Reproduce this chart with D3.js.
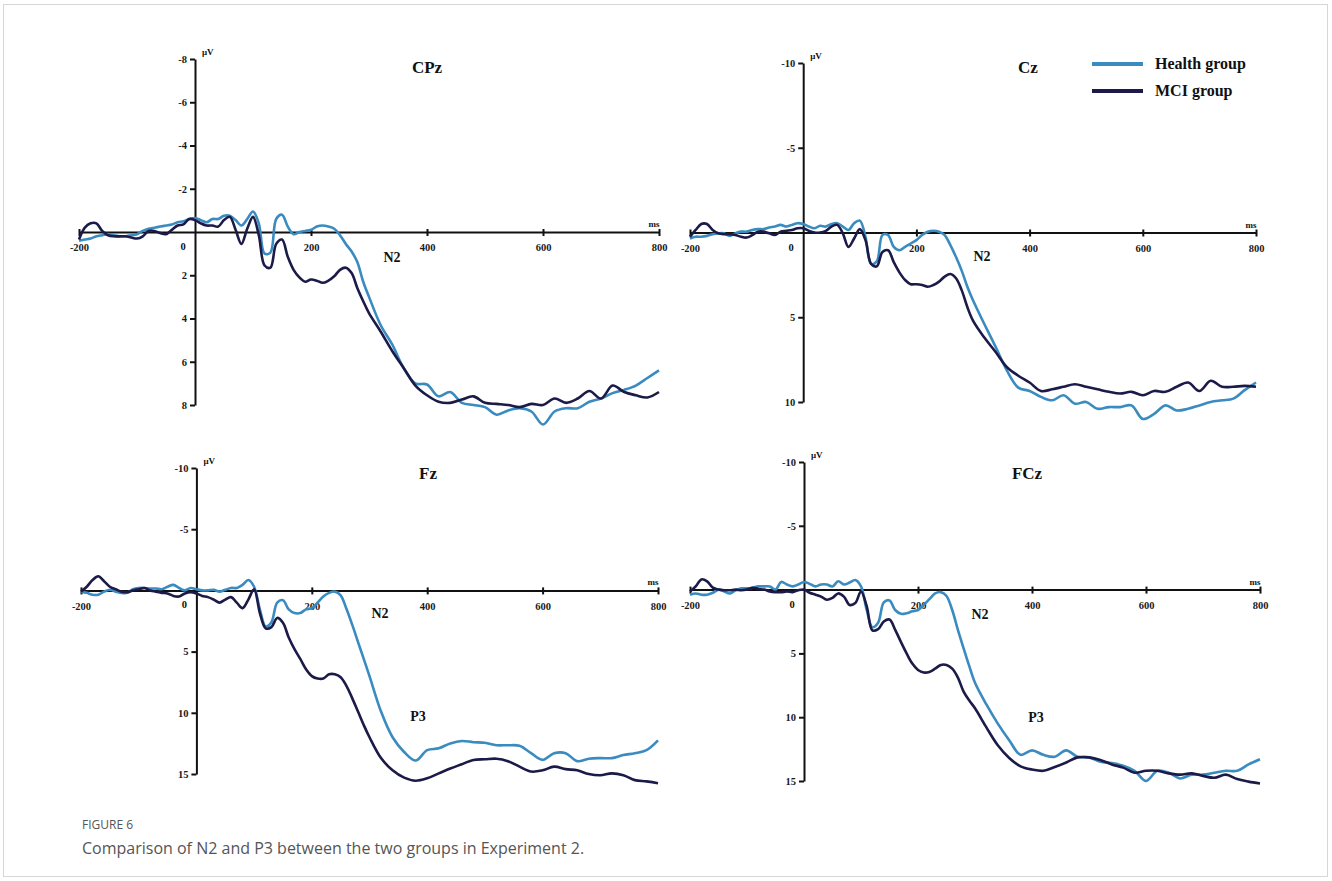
<!DOCTYPE html>
<html>
<head>
<meta charset="utf-8">
<script src="https://cdn.jsdelivr.net/npm/d3@7"></script>
<style>
  html, body { margin: 0; padding: 0; background: #fff; }
  svg { display: block; }
  .serif { font-family: "Liberation Serif", "Times New Roman", serif; font-weight: bold; fill: #111; }
  .axis path, .axis line { stroke: #111; stroke-width: 2; }
  .axis text { font-family: "Liberation Serif", "Times New Roman", serif; font-weight: bold; font-size: 10.5px; fill: #1a1a1a; }
  .caption { font-family: "Open Sans", "Noto Sans", sans-serif; fill: #555; }
</style>
</head>
<body>
<svg id="chart" width="1332" height="881"></svg>
<script>
// time points (ms) shared by every waveform
const TIMES = d3.range(-200, 301, 10).concat(d3.range(320, 801, 20));

const GROUPS = ["Health group", "MCI group"];
const X_TICKS = [-200, 200, 400, 600, 800];

// amplitudes in µV (positive plotted downwards)
const CPZ_HEALTH = [
  0.4, 0.35, 0.3, 0.2, 0.15, 0.1, 0.15, 0.2, 0.2, 0.15,
  0.1, -0.05, -0.15, -0.2, -0.25, -0.3, -0.35, -0.45, -0.5, -0.6,
  -0.65, -0.55, -0.45, -0.6, -0.6, -0.75, -0.75, -0.55, -0.3, -0.6,
  -0.95, -0.4, 1.0, 0.95, -0.6, -0.8, -0.25, 0.1, 0, -0.05,
  -0.1, -0.25, -0.3, -0.25, -0.15, 0.15, 0.55, 0.9, 1.4, 2.3, 3.0,
  4.3, 5.2, 6.3, 7.0, 7.05, 7.6, 7.4, 7.9, 8.0, 8.1, 8.45, 8.25, 8.15, 8.3, 8.9,
  8.3, 8.15, 8.15, 7.85, 7.7, 7.45, 7.3, 7.1, 6.75, 6.4
];
const CPZ_MCI = [
  0.35, -0.2, -0.4, -0.4, -0.05, 0.15, 0.2, 0.2, 0.2, 0.25,
  0.3, 0.2, -0.05, -0.05, 0.05, 0.1, -0.1, -0.3, -0.35, -0.6,
  -0.55, -0.4, -0.3, -0.3, -0.25, -0.55, -0.7, -0.1, 0.55, -0.15,
  -0.7, 0.15, 1.55, 1.65, 0.55, 0.35, 1.15, 1.75, 2.1, 2.3,
  2.2, 2.25, 2.35, 2.25, 2.05, 1.75, 1.65, 1.9, 2.6, 3.2, 3.75,
  4.6, 5.5, 6.3, 7.1, 7.55, 7.85, 7.9, 7.75, 7.6, 7.9, 7.95, 8.0, 8.1, 7.95, 8.0,
  7.7, 7.9, 7.7, 7.35, 7.7, 7.1, 7.4, 7.55, 7.65, 7.4
];
const CZ_HEALTH = [
  0.35, 0.25, 0.25, 0.2, 0.1, 0.05, 0.05, 0.2, 0.05, -0.05,
  -0.05, -0.15, -0.2, -0.2, -0.3, -0.35, -0.45, -0.35, -0.45, -0.55,
  -0.5, -0.35, -0.25, -0.4, -0.35, -0.5, -0.55, -0.35, -0.15, -0.55,
  -0.7, 0.25, 1.85, 1.7, 0.15, 0.15, 0.85, 1.05, 0.85, 0.65,
  0.45, 0.15, -0.05, -0.1, -0.05, 0.15, 0.75, 1.45, 2.25, 3.2, 4.0,
  5.4, 6.75, 8.15, 9.15, 9.35, 9.7, 9.9, 9.6, 10.1, 10.0, 10.4, 10.3, 10.3, 10.2, 11.0,
  10.7, 10.2, 10.5, 10.4, 10.2, 10.0, 9.9, 9.8, 9.3, 8.85
];
const CZ_MCI = [
  0.25, -0.15, -0.5, -0.5, -0.15, 0.05, 0.1, 0.1, 0.15, 0.25,
  0.3, 0.15, -0.05, -0.05, 0.05, 0.15, -0.05, -0.1, -0.15, -0.25,
  -0.25, -0.1, 0, 0, -0.1, -0.35, -0.45, 0.05, 0.85, 0.35,
  -0.2, 0.45, 1.85, 2.0, 1.15, 1.05, 1.75, 2.35, 2.8, 3.05,
  3.05, 3.1, 3.2, 3.1, 2.9, 2.6, 2.45, 2.7, 3.4, 4.4, 5.2,
  6.2, 7.05, 7.95, 8.45, 8.85, 9.35, 9.25, 9.1, 8.95, 9.1, 9.25, 9.4, 9.5, 9.4, 9.6,
  9.35, 9.4, 9.1, 8.85, 9.35, 8.75, 9.1, 9.1, 9.05, 9.1
];
const FZ_HEALTH = [
  0.1, 0.2, 0.35, 0.35, 0.1, -0.05, 0.1, 0.2, 0.2, -0.1,
  -0.2, -0.2, -0.15, -0.15, -0.1, -0.3, -0.45, -0.2, 0, -0.2,
  -0.1, 0, 0, -0.05, 0.1, -0.05, -0.2, -0.2, -0.45, -0.85,
  -0.3, 1.55, 2.95, 2.6, 1.0, 0.8, 1.55, 1.85, 1.85, 1.55,
  1.45, 1.0, 0.5, 0.2, 0.1, 0.4, 1.5, 2.8, 4.2, 5.6, 7.0,
  9.9, 12.0, 13.2, 13.9, 13.05, 12.9, 12.5, 12.3, 12.4, 12.45, 12.65, 12.65, 12.7, 13.3, 13.85,
  13.3, 13.3, 13.95, 13.75, 13.7, 13.7, 13.45, 13.3, 13.05, 12.25
];
const FZ_MCI = [
  0.1, -0.3, -0.85, -1.15, -0.75, -0.3, -0.1, 0.1, 0.15, 0,
  -0.1, -0.2, 0, 0.1, 0.2, 0.25, 0.45, 0.5, 0.25, 0.15,
  0.25, 0.45, 0.55, 0.75, 1.0, 0.75, 0.55, 1.0, 1.45, 0.75,
  -0.1, 1.85, 3.1, 3.0, 2.25, 2.65, 3.85, 4.8, 5.6, 6.45,
  7.0, 7.2, 7.2, 6.85, 6.85, 7.1, 7.8, 8.8, 9.9, 11.0, 12.0,
  13.7, 14.7, 15.3, 15.55, 15.35, 14.95, 14.55, 14.2, 13.85, 13.8, 13.75, 13.95, 14.4, 14.8, 14.7,
  14.4, 14.6, 14.7, 15.0, 15.1, 14.95, 15.1, 15.5, 15.6, 15.75
];
const FCZ_HEALTH = [
  0.4, 0.3, 0.4, 0.4, 0.25, 0, 0.15, 0.3, 0.05, -0.1,
  -0.1, -0.15, -0.25, -0.25, -0.25, 0, -0.6, -0.4, -0.25, -0.4,
  -0.6, -0.45, -0.25, -0.4, -0.4, -0.25, -0.65, -0.4, -0.55, -0.75,
  -0.25, 1.6, 2.95, 2.6, 1.0, 0.85, 1.6, 1.9, 1.85, 1.7,
  1.6, 1.2, 0.75, 0.3, 0.2, 0.5, 1.6, 3.15, 4.6, 6.0, 7.3,
  9.0, 10.5, 11.8, 12.95, 12.6, 12.95, 13.1, 12.6, 13.1, 13.15, 13.5, 13.6, 13.8, 14.2, 15.0,
  14.2, 14.35, 14.8, 14.5, 14.5, 14.35, 14.2, 14.2, 13.7, 13.3
];
const FCZ_MCI = [
  0.15, -0.25, -0.8, -0.65, -0.15, 0, 0.05, 0.05, 0, 0.05,
  0, -0.15, -0.05, 0, 0.15, 0.2, 0.2, 0.15, 0.2, 0.05,
  0, 0.25, 0.4, 0.55, 0.8, 0.65, 0.3, 0.55, 1.2, 1.05,
  0.15, 1.3, 3.2, 3.1, 2.5, 2.35, 3.15, 4.1, 5.0, 5.8,
  6.3, 6.5, 6.45, 6.2, 5.9, 5.9, 6.2, 6.9, 8.0, 8.7, 9.3,
  10.8, 12.2, 13.2, 13.85, 14.1, 14.2, 13.9, 13.55, 13.15, 13.15, 13.35, 13.7, 13.95, 14.35, 14.2,
  14.2, 14.4, 14.5, 14.4, 14.6, 14.75, 14.5, 14.85, 15.05, 15.2
];

const Y_TICKS_CPZ = [-8, -6, -4, -2, 2, 4, 6, 8];
const Y_TICKS_CZ = [-10, -5, 5, 10];
const Y_TICKS_FRONT = [-10, -5, 5, 10, 15];

const COLOR_HEALTH = "#3a8bbf";
const COLOR_MCI = "#1b1a48";

const panels = [
  {
    name: "CPz", series: [CPZ_HEALTH, CPZ_MCI], yDomain: [-8, 8], yTicks: Y_TICKS_CPZ,
    xRange: [79, 659], yRange: [59, 405], title: [427, 73], n2: [392, 262], p3: null
  },
  {
    name: "Cz", series: [CZ_HEALTH, CZ_MCI], yDomain: [-10, 10], yTicks: Y_TICKS_CZ,
    xRange: [690, 1256], yRange: [63, 402], title: [1028, 73], n2: [982, 261], p3: null
  },
  {
    name: "Fz", series: [FZ_HEALTH, FZ_MCI], yDomain: [-10, 15], yTicks: Y_TICKS_FRONT,
    xRange: [81, 658], yRange: [468, 774], title: [428, 479], n2: [380, 618], p3: [418, 721]
  },
  {
    name: "FCz", series: [FCZ_HEALTH, FCZ_MCI], yDomain: [-10, 15], yTicks: Y_TICKS_FRONT,
    xRange: [690, 1260], yRange: [462, 781], title: [1027, 479], n2: [980, 619], p3: [1036, 722]
  }
];

const svg = d3.select("#chart");

// thin frame round the figure
svg.append("rect")
  .attr("x", 3.5).attr("y", 4.5)
  .attr("width", 1324).attr("height", 872)
  .attr("fill", "none").attr("stroke", "#d6d6d6");

const fmt = (d) => String(d);

function drawPanel(p) {
  const x = d3.scaleLinear().domain([-200, 800]).range(p.xRange);
  const y = d3.scaleLinear().domain(p.yDomain).range(p.yRange);
  const g = svg.append("g");

  // x axis through 0 µV
  const xAxis = g.append("g")
    .attr("class", "axis")
    .attr("transform", `translate(0,${y(0)})`)
    .call(d3.axisBottom(x).tickValues(X_TICKS).tickFormat(fmt).tickSize(4).tickSizeOuter(0).tickPadding(8));
  xAxis.selectAll(".tick line").attr("y1", -3);

  // y axis through 0 ms
  g.append("g")
    .attr("class", "axis")
    .attr("transform", `translate(${x(0)},0)`)
    .call(d3.axisLeft(y).tickValues(p.yTicks).tickFormat(fmt).tickSize(5).tickSizeOuter(0).tickPadding(3));

  g.append("text").attr("class", "serif")
    .attr("x", x(0) - 12).attr("y", y(0) + 18)
    .attr("text-anchor", "middle").attr("font-size", 10.5)
    .text("0");

  g.append("text").attr("class", "serif")
    .attr("x", x(0) + 7).attr("y", p.yRange[0] - 4)
    .attr("font-size", 9).attr("font-weight", "normal")
    .text("μV");

  g.append("text").attr("class", "serif")
    .attr("x", x(800) - 5).attr("y", y(0) - 5)
    .attr("text-anchor", "middle").attr("font-size", 9)
    .text("ms");

  const line = d3.line()
    .x((d, i) => x(TIMES[i]))
    .y((d) => y(d))
    .curve(d3.curveCatmullRom.alpha(0.5));

  const colors = [COLOR_HEALTH, COLOR_MCI];
  p.series.forEach((values, i) => {
    g.append("path")
      .datum(values)
      .attr("fill", "none")
      .attr("stroke", colors[i])
      .attr("stroke-width", 2.6)
      .attr("stroke-linejoin", "round")
      .attr("d", line);
  });

  g.append("text").attr("class", "serif")
    .attr("x", p.title[0]).attr("y", p.title[1])
    .attr("text-anchor", "middle").attr("font-size", 17)
    .text(p.name);

  g.append("text").attr("class", "serif")
    .attr("x", p.n2[0]).attr("y", p.n2[1])
    .attr("text-anchor", "middle").attr("font-size", 14)
    .text("N2");

  if (p.p3) {
    g.append("text").attr("class", "serif")
      .attr("x", p.p3[0]).attr("y", p.p3[1])
      .attr("text-anchor", "middle").attr("font-size", 14)
      .text("P3");
  }
}

panels.forEach(drawPanel);

// legend
const legend = svg.append("g").attr("transform", "translate(1092,64)");
GROUPS.forEach((name, i) => {
  const row = legend.append("g").attr("transform", `translate(0,${i * 27})`);
  row.append("line")
    .attr("x1", 0).attr("x2", 51)
    .attr("stroke", i === 0 ? COLOR_HEALTH : COLOR_MCI)
    .attr("stroke-width", 4);
  row.append("text").attr("class", "serif")
    .attr("x", 63).attr("y", 5)
    .attr("font-size", 16)
    .text(name);
});

// caption
svg.append("text").attr("class", "caption")
  .attr("x", 82).attr("y", 829)
  .attr("font-size", 12)
  .attr("fill", "#666")
  .text("FIGURE 6");
svg.append("text").attr("class", "caption")
  .attr("x", 82).attr("y", 854)
  .attr("font-size", 16)
  .text("Comparison of N2 and P3 between the two groups in Experiment 2.");
</script>
</body>
</html>
